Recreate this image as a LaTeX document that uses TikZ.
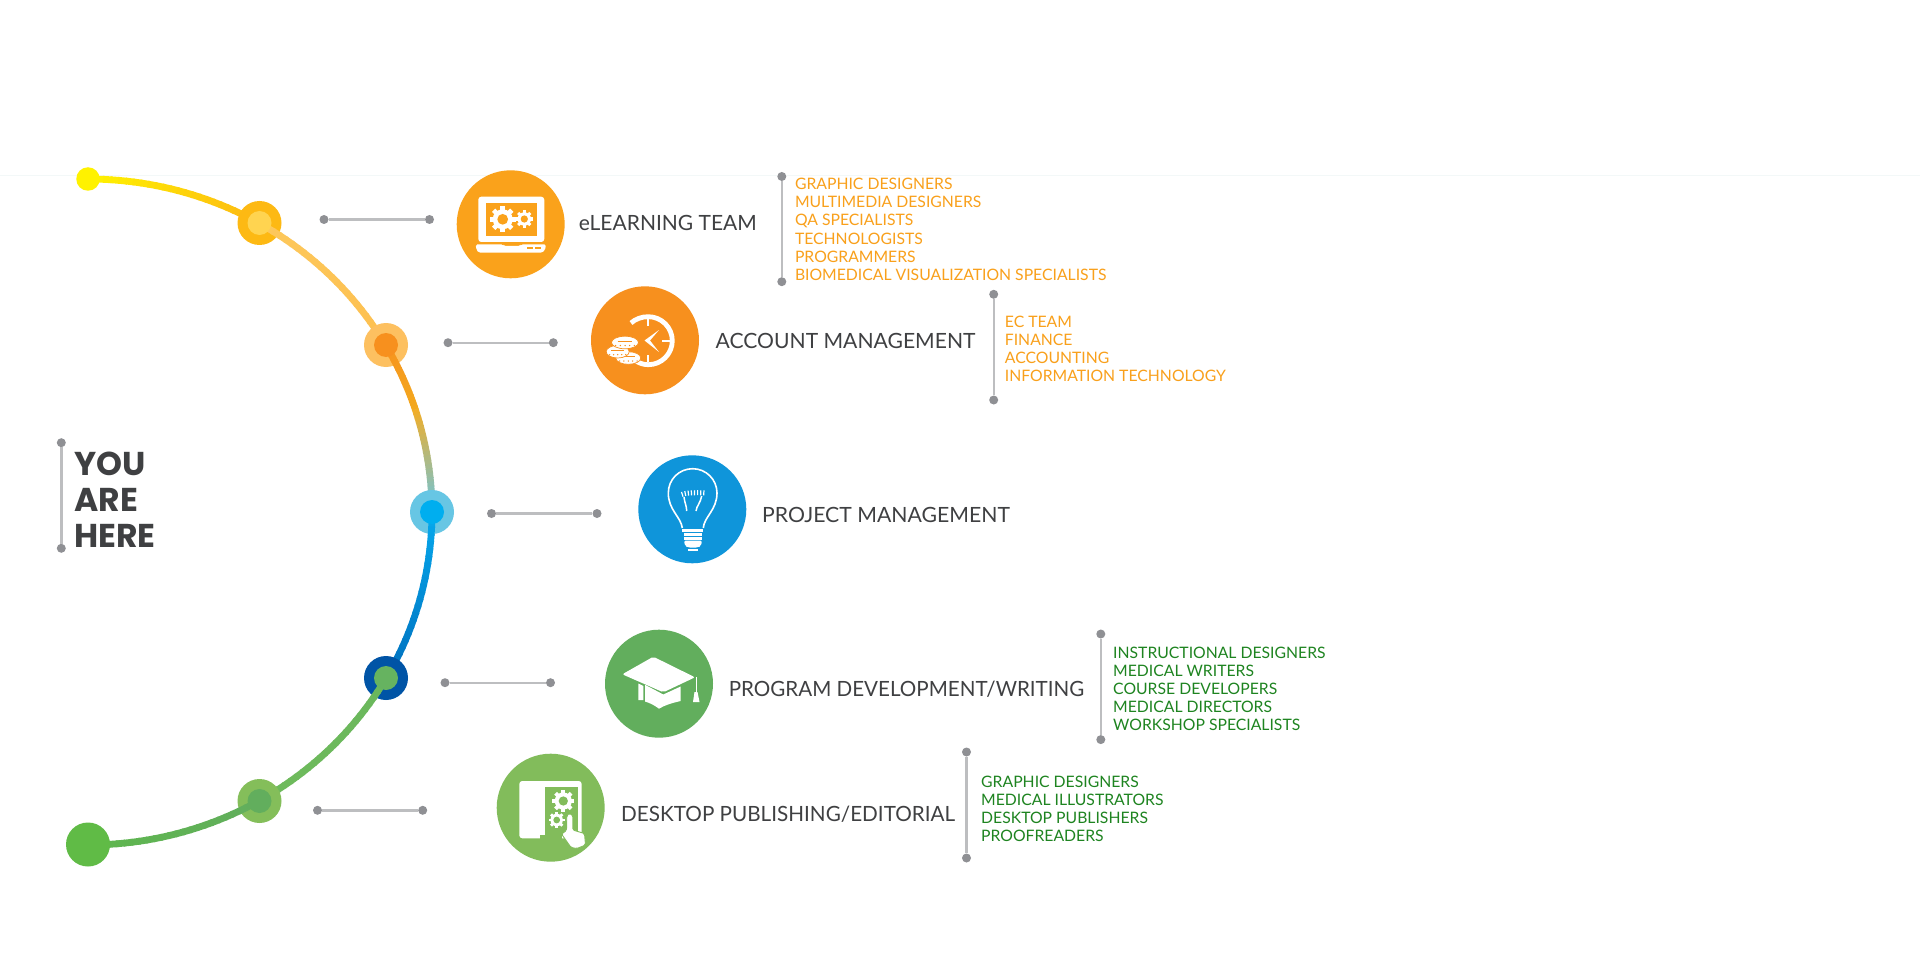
\documentclass[tikz,border=0pt]{standalone}
\usepackage{fontspec}
\setmainfont{Lato}
\newfontfamily\youfont{Poppins}
\definecolor{txt}{HTML}{3F4042}
\definecolor{listor}{HTML}{F9A01B}
\definecolor{listgr}{HTML}{1E8420}
\definecolor{ln}{HTML}{BDBEC0}
\definecolor{dt}{HTML}{8F9094}
\definecolor{cA}{HTML}{FAA21B}
\definecolor{cB}{HTML}{F7901E}
\definecolor{cC}{HTML}{0F95DA}
\definecolor{cD}{HTML}{62AE5D}
\definecolor{cE}{HTML}{82BC5B}
\definecolor{rule}{HTML}{F3F8F8}
\tikzset{
 dotnode/.style={circle,fill=dt,inner sep=0,minimum size=9pt},
 link/.style={draw=ln,line width=2.4pt},
 bubble/.style={circle,inner sep=0,minimum size=108pt},
 outer/.style={circle,inner sep=0,minimum size=44pt},
 inner/.style={circle,inner sep=0,minimum size=24pt},
 title/.style={anchor=base west,inner sep=0,text=txt,font=\fontsize{21}{24}\selectfont},
 listtext/.style={anchor=base west,inner sep=0,font=\fontsize{15.75}{18}\selectfont},
}
\newcommand{\arcseg}[4]{%
 \definecolor{segA}{HTML}{#3}\definecolor{segB}{HTML}{#4}%
 \foreach \i in {1,...,24}{%
  \pgfmathsetmacro{\aone}{#1+(#2-#1)*(\i-1)/24}%
  \pgfmathsetmacro{\atwo}{#1+(#2-#1)*\i/24+(#2-#1)*0.01}%
  \pgfmathsetmacro{\pp}{100*(\i-1)/23}%
  \draw[line width=6.8pt,color={segB!\pp!segA}] ({88+344*cos(\aone)},{512-333*sin(\aone)}) -- ({88+344*cos(\atwo)},{512-333*sin(\atwo)});
 }}
\newcommand{\gearicon}[4]{% x y r holecolor
 \foreach \g in {0,45,...,315}{%
  \draw[white,line width=#3*0.36pt] (#1,#2) -- ({#1+#3*cos(\g)},{#2+#3*sin(\g)});}
 \fill[white] (#1,#2) circle[radius=#3*0.78];
 \fill[#4] (#1,#2) circle[radius=#3*0.42];}
\newcommand{\cointier}[3]{% x y rx
 \fill[white,draw=cB,line width=0.7pt] (#1,#2) ellipse[x radius=#3,y radius=6.3];
 \foreach \q in {-0.7,-0.35,0,0.35,0.7}{\fill[cB] ({#1+#3*\q},#2+3) circle[radius=0.75];}
 \draw[cB,line width=0.6pt] ({#1-#3*.55},#2-1.5) -- ({#1+#3*.55},#2-1.5);}
\begin{document}
\begin{tikzpicture}[x=1pt,y=-1pt]
\useasboundingbox (0,0) rectangle (1920,960);
\fill[white] (0,0) rectangle (1920,960);
\draw[color=rule,line width=1.2pt] (0,175.5) -- (1920,175.5);

% ---- the arc and its stations
\arcseg{90}{60}{FFF200}{FDB913}
\node[outer,fill={rgb,255:red,253;green,185;blue,19}] (s1) at (259.5,223) {};
\arcseg{60}{30}{FDC85C}{FDC050}
\node[inner,fill={rgb,255:red,255;green,212;blue,80}] (t1) at (259.5,223) {};
\node[outer,fill={rgb,255:red,253;green,192;blue,96}] (s2) at (386,345) {};
\arcseg{30}{18}{F7941E}{F3A81E}
\arcseg{18}{0}{F0AE2A}{6DC5DC}
\node[inner,fill={rgb,255:red,247;green,144;blue,30}] (t2) at (386,345) {};
\node[outer,fill={rgb,255:red,103;green,198;blue,228}] (s3) at (432,512) {};
\arcseg{0}{-30}{06A8EC}{0070BE}
\node[inner,fill={rgb,255:red,0;green,174;blue,239}] (t3) at (432,512) {};
\node[outer,fill={rgb,255:red,0;green,84;blue,166}] (s4) at (386,678) {};
\arcseg{-30}{-60}{6AB75C}{6FBB5C}
\node[inner,fill={rgb,255:red,102;green,179;blue,96}] (t4) at (386,678) {};
\node[outer,fill={rgb,255:red,132;green,190;blue,90}] (s5) at (259.5,801) {};
\arcseg{-60}{-90}{62AE5D}{5EB64E}
\node[inner,fill={rgb,255:red,98;green,174;blue,93}] (t5) at (259.5,801) {};
\node[circle,inner sep=0,minimum size=23.5pt,fill={rgb,255:red,255;green,242;blue,0}] (start) at (88,179) {};
\node[outer,fill={rgb,255:red,96;green,187;blue,70}] (stop) at (88,844.5) {};

% ---- short connectors
\node[dotnode] (a1) at (324,219.5) {}; \node[dotnode] (a2) at (429.5,219.5) {};
\node[dotnode] (b1) at (448,342.7) {}; \node[dotnode] (b2) at (553.3,342.7) {};
\node[dotnode] (c1) at (491.5,513.5) {}; \node[dotnode] (c2) at (597,513.5) {};
\node[dotnode] (d1) at (445,682.7) {}; \node[dotnode] (d2) at (550.5,682.7) {};
\node[dotnode] (e1) at (317.5,810.3) {}; \node[dotnode] (e2) at (422.7,810.3) {};
\draw[link] (a1) -- (a2); \draw[link] (b1) -- (b2); \draw[link] (c1) -- (c2);
\draw[link] (d1) -- (d2); \draw[link] (e1) -- (e2);

% ---- brackets
\node[dotnode] (h1) at (61.3,442.7) {}; \node[dotnode] (h2) at (61.3,548.3) {};
\node[dotnode] (f1) at (781.8,176.5) {}; \node[dotnode] (f2) at (781.8,281.7) {};
\node[dotnode] (g1) at (993.7,294.3) {}; \node[dotnode] (g2) at (993.7,400) {};
\node[dotnode] (i1) at (1100.8,634) {}; \node[dotnode] (i2) at (1100.8,739.6) {};
\node[dotnode] (j1) at (966.5,752) {}; \node[dotnode] (j2) at (966.5,858) {};
\draw[link] (h1) -- (h2); \draw[link] (f1) -- (f2); \draw[link] (g1) -- (g2);
\draw[link] (i1) -- (i2); \draw[link] (j1) -- (j2);

% ---- YOU ARE HERE
\begin{scope}[every node/.style={anchor=base west,inner sep=0,text=txt,font=\youfont\bfseries\fontsize{33}{36}\selectfont}]
\node (you) at (74,475) {YOU};
\node (are) at (74,511.5) {ARE};
\node (here) at (74,547) {HERE};
\end{scope}

% ---- bubbles
\node[bubble,fill=cA] (ba) at (510.7,224.3) {};
\node[bubble,fill=cB] (bb) at (645,340.3) {};
\node[bubble,fill=cC] (bc) at (692.3,509.3) {};
\node[bubble,fill=cD] (bd) at (659,683.7) {};
\node[bubble,fill=cE] (be) at (550.7,807.7) {};

% laptop
\fill[white,rounded corners=3pt] (478.3,196.7) rectangle (544.3,242);
\fill[cA] (486,203.5) rectangle (536.7,236);
\fill[white,rounded corners=1.5pt] (475.7,244.5) -- (503,244.5) -- (504,246) -- (520,246) -- (521,244.5) -- (546,244.5) -- (545,250) -- (542,252.7) -- (479,252.7) -- (476.5,250) -- cycle;
\fill[cA] (526.5,247.3) rectangle (533,248.6);
\fill[cA] (535,247.3) rectangle (541,248.6);
\gearicon{502.7}{219.3}{12.8}{cA}
\gearicon{524.3}{219}{8.6}{cA}

% clock and coins
\draw[white,line width=4.8pt] (631,323) .. controls (635.5,319) and (641.5,316.7) .. (648.3,316.7) .. controls (661.5,316.7) and (672.3,327.5) .. (672.3,340.7) .. controls (672.3,354) and (661.5,364.7) .. (648.3,364.7) .. controls (644,364.7) and (640,363.5) .. (636,361);
\draw[white,line width=2pt] (648.3,319) -- (648.3,326);
\draw[white,line width=2pt] (662,340.7) -- (670,340.7);
\draw[white,line width=2pt] (648.3,355) -- (648.3,362);
\fill[white] (659,330) -- (644.5,340.5) -- (659,352) -- (650,340.5) -- cycle;
\cointier{628.3}{358}{12.5}
\cointier{617.7}{351.7}{11.5}
\cointier{625}{342.5}{13.5}

% light bulb
\draw[white,line width=1.6pt,line join=round] (682.3,528) .. controls (681,517) and (668.3,510) .. (668.3,493) .. controls (668.3,479.5) and (679,468.7) .. (692.7,468.7) .. controls (706,468.7) and (717,479.5) .. (717,493) .. controls (717,510) and (704,517) .. (703.3,528);
\draw[white,line width=1.5pt] (686.7,511) .. controls (686.7,506) and (684.6,503) .. (684,497);
\draw[white,line width=1.5pt] (696,511) .. controls (696.5,506) and (700.5,503) .. (701.7,496);
\draw[white,line width=5pt,dash pattern=on 1.2pt off 1.9pt] (681.7,494.5) .. controls (686,492.5) and (698,492.5) .. (705,493);
\fill[white] (682.3,528.5) rectangle (703.3,532);
\fill[white] (683.5,532.5) rectangle (702.3,536);
\fill[white] (683.5,536.5) rectangle (702.3,540);
\fill[white,rounded corners=2pt] (684,540.5) -- (702,540.5) -- (701,546) -- (698,547.5) -- (688,547.5) -- (685,546) -- cycle;
\fill[white] (688,548.5) rectangle (698,551);

% mortarboard
\fill[white,rounded corners=2pt] (622.3,674.3) -- (653.3,656.7) -- (695,677.3) -- (663.3,692.3) -- cycle;
\fill[white] (645,684.8) -- (663.3,694.5) -- (680.7,686.5) -- (680.7,701) .. controls (672,703) and (665,705) .. (659,708.7) .. controls (654,705) and (650,703) .. (645,701.5) -- cycle;
\fill[white] (638.3,683.5) -- (643.3,686) -- (643.3,700) -- (638.3,700) -- cycle;
\draw[white,line width=1pt] (696,677) -- (696,693);
\fill[white] (694.5,692) -- (697.5,692) -- (699.5,702) -- (693,702) -- cycle;

% tablet
\fill[white,rounded corners=3pt] (519.3,781) rectangle (581.7,838.3);
\fill[cE] (545,786.7) rectangle (578.3,835);
\fill[cE] (540,835) rectangle (562,839);
\gearicon{563.3}{801}{11}{cE}
\gearicon{556.7}{820}{8}{cE}
\fill[white,draw=cE,line width=0.9pt,rounded corners=1.5pt] (561.5,834) -- (566.5,830.5) -- (566.8,815.5) -- (569.5,813.2) -- (572.8,815.5) -- (572.8,830) -- (584.5,833.5) -- (585.5,845) -- (577,848.5) -- (571,847.5) -- cycle;

% ---- titles
\node[title] (la) at (578.7,231) {eLEARNING TEAM};
\node[title] (lb) at (715.5,348) {\scalebox{1.005}[1]{ACCOUNT MANAGEMENT}};
\node[title] (lc) at (762,522) {\scalebox{1.01}[1]{PROJECT MANAGEMENT}};
\node[title] (ld) at (728.6,696) {\scalebox{0.98}[1]{PROGRAM DEVELOPMENT/WRITING}};
\node[title] (le) at (621,821) {\scalebox{0.985}[1]{DESKTOP PUBLISHING/EDITORIAL}};

% ---- lists
\begin{scope}[every node/.style={listtext,text=listor}]
\node (a01) at (794.8,190) {GRAPHIC DESIGNERS};
\node (a02) at (794.8,208) {MULTIMEDIA DESIGNERS};
\node (a03) at (794.8,226) {QA SPECIALISTS};
\node (a04) at (794.8,244) {TECHNOLOGISTS};
\node (a05) at (794.8,262) {PROGRAMMERS};
\node (a06) at (794.8,280) {BIOMEDICAL VISUALIZATION SPECIALISTS};
\node (b01) at (1004.7,327) {EC TEAM};
\node (b02) at (1004.7,345) {FINANCE};
\node (b03) at (1004.7,363) {ACCOUNTING};
\node (b04) at (1004.7,381) {INFORMATION TECHNOLOGY};
\end{scope}
\begin{scope}[every node/.style={listtext,text=listgr}]
\node (d01) at (1113,658) {INSTRUCTIONAL DESIGNERS};
\node (d02) at (1113,676) {MEDICAL WRITERS};
\node (d03) at (1113,694) {COURSE DEVELOPERS};
\node (d04) at (1113,712) {MEDICAL DIRECTORS};
\node (d05) at (1113,730) {WORKSHOP SPECIALISTS};
\node (e01) at (981,787) {GRAPHIC DESIGNERS};
\node (e02) at (981,805) {MEDICAL ILLUSTRATORS};
\node (e03) at (981,823) {DESKTOP PUBLISHERS};
\node (e04) at (981,841) {PROOFREADERS};
\end{scope}
\end{tikzpicture}
\end{document}
